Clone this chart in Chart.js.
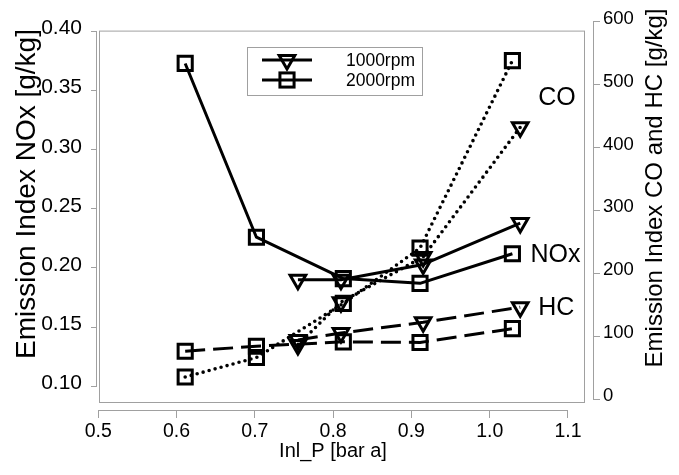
<!DOCTYPE html>
<html><head><meta charset="utf-8">
<script src="https://cdn.jsdelivr.net/npm/chart.js@4.4.0/dist/chart.umd.min.js"></script>
<style>html,body{margin:0;padding:0;background:#fff;}</style>
</head><body>
<canvas id="c" width="679" height="475"></canvas>
<script>
// ---- data ----
const xTicks = [0.5, 0.6, 0.7, 0.8, 0.9, 1.0, 1.1];
const noxTicks = [0.10, 0.15, 0.20, 0.25, 0.30, 0.35, 0.40];
const coHcTicks = [0, 100, 200, 300, 400, 500, 600];
const speeds = ['1000rpm', '2000rpm'];
const speciesLabels = ['CO', 'NOx', 'HC'];
const inlP1000 = [0.755, 0.81, 0.915, 1.039];
const inlP2000 = [0.611, 0.702, 0.813, 0.911, 1.029];
const nox1000 = [0.190, 0.190, 0.203, 0.238];
const nox2000 = [0.373, 0.226, 0.191, 0.187, 0.212];
const co1000 = [86, 154, 226, 432];
const co2000 = [35, 66, 152, 240, 538];
const hc1000 = [94, 105, 122, 146];
const hc2000 = [76, 84, 91, 90, 112];

const FONT = 'Liberation Sans, Arial, sans-serif';
const GRAY = '#a0a0a0';
const pts = (xs, ys) => xs.map((x, i) => ({x: x, y: ys[i]}));

const STY = {
  solid: {borderDash: []},
  dashed: {borderDash: [20, 8]},
  dotted: {borderDash: [0, 6.2], borderCapStyle: 'round'}
};
function ds(label, xs, ys, axis, speedIdx, line) {
  const tri = speedIdx === 0;
  return Object.assign({
    label: label,
    data: pts(xs, ys),
    yAxisID: axis,
    showLine: true,
    borderColor: '#000',
    borderWidth: line === 'dotted' ? 3.6 : 3,
    borderJoinStyle: 'round',
    pointStyle: tri ? 'triangle' : 'rect',
    pointRotation: tri ? 180 : 0,
    pointRadius: tri ? 9 : 10,
    pointBorderWidth: 3,
    pointBorderColor: '#000',
    pointBackgroundColor: 'rgba(0,0,0,0)',
    pointHoverRadius: tri ? 9 : 10,
    clip: false
  }, STY[line]);
}

const datasets = [
  ds('NOx ' + speeds[0], inlP1000, nox1000, 'yL', 0, 'solid'),
  ds('NOx ' + speeds[1], inlP2000, nox2000, 'yL', 1, 'solid'),
  ds('CO ' + speeds[0], inlP1000, co1000, 'yR', 0, 'dotted'),
  ds('CO ' + speeds[1], inlP2000, co2000, 'yR', 1, 'dotted'),
  ds('HC ' + speeds[0], inlP1000, hc1000, 'yR', 0, 'dashed'),
  ds('HC ' + speeds[1], inlP2000, hc2000, 'yR', 1, 'dashed')
];

function drawTri(ctx, x, y, r) {
  ctx.beginPath();
  ctx.moveTo(x, y + r);
  ctx.lineTo(x - 0.866 * r, y - 0.5 * r);
  ctx.lineTo(x + 0.866 * r, y - 0.5 * r);
  ctx.closePath();
  ctx.stroke();
}
function drawRect(ctx, x, y, r) {
  const s = Math.SQRT1_2 * r;
  ctx.strokeRect(x - s, y - s, 2 * s, 2 * s);
}

const decor = {
  id: 'decor',
  beforeDatasetsDraw(chart) {
    const {ctx, chartArea: a, scales} = chart;
    ctx.save();
    ctx.strokeStyle = GRAY;
    ctx.lineWidth = 1;
    // plot frame
    ctx.strokeRect(a.left + 2.5, a.top + 9.5, (a.right - 9) - (a.left + 2), (a.bottom - 8) - (a.top + 9));
    // axis lines spanning tick range
    const yL = scales.yL, yR = scales.yR, x = scales.x;
    ctx.beginPath();
    ctx.moveTo(a.left - 0.5, yL.getPixelForValue(noxTicks[0]));
    ctx.lineTo(a.left - 0.5, yL.getPixelForValue(noxTicks[noxTicks.length - 1]));
    ctx.moveTo(a.right + 0.5, yR.getPixelForValue(coHcTicks[0]));
    ctx.lineTo(a.right + 0.5, yR.getPixelForValue(coHcTicks[coHcTicks.length - 1]));
    ctx.moveTo(x.getPixelForValue(xTicks[0]), a.bottom + 0.5);
    ctx.lineTo(x.getPixelForValue(xTicks[xTicks.length - 1]), a.bottom + 0.5);
    ctx.stroke();
    ctx.restore();
  },
  afterDatasetsDraw(chart) {
    const {ctx, scales} = chart;
    ctx.save();
    // legend
    ctx.strokeStyle = GRAY;
    ctx.lineWidth = 1;
    ctx.strokeRect(247.5, 47.5, 175, 48);
    ctx.strokeStyle = '#000';
    ctx.lineWidth = 3;
    [60, 80].forEach((ly, i) => {
      ctx.beginPath();
      ctx.moveTo(262, ly); ctx.lineTo(312, ly);
      ctx.stroke();
      if (i === 0) drawTri(ctx, 287, ly, 9); else drawRect(ctx, 287, ly, 10);
    });
    ctx.fillStyle = '#000';
    ctx.font = '17.5px ' + FONT;
    ctx.textAlign = 'right';
    ctx.textBaseline = 'middle';
    ctx.fillText(speeds[0], 415, 61);
    ctx.fillText(speeds[1], 415, 81);
    // species labels
    ctx.font = '25px ' + FONT;
    ctx.textAlign = 'left';
    ctx.fillText(speciesLabels[0], scales.x.getPixelForValue(1.062), scales.yR.getPixelForValue(478));
    ctx.fillText(speciesLabels[1], scales.x.getPixelForValue(1.052), scales.yL.getPixelForValue(0.2109));
    ctx.fillText(speciesLabels[2], scales.x.getPixelForValue(1.062), scales.yR.getPixelForValue(145));
    // axis titles
    ctx.textAlign = 'center';
    ctx.textBaseline = 'alphabetic';
    ctx.font = '20px ' + FONT;
    ctx.fillText('Inl_P [bar a]', 333, 457);
    ctx.save();
    ctx.translate(35, 194);
    ctx.rotate(-Math.PI / 2);
    ctx.font = '28px ' + FONT;
    ctx.fillText('Emission Index NOx [g/kg]', 0, 0);
    ctx.restore();
    ctx.save();
    ctx.translate(662, 188);
    ctx.rotate(-Math.PI / 2);
    ctx.font = '24px ' + FONT;
    ctx.fillText('Emission Index CO and HC [g/kg]', 0, 0);
    ctx.restore();
    ctx.restore();
  }
};

new Chart(document.getElementById('c'), {
  type: 'scatter',
  data: {datasets: datasets},
  options: {
    responsive: false,
    animation: false,
    devicePixelRatio: 1,
    layout: {padding: {top: 19, left: 0, right: 0, bottom: 0}},
    plugins: {legend: {display: false}, tooltip: {enabled: false}},
    scales: {
      x: {
        type: 'linear', position: 'bottom',
        min: 0.49834, max: 1.13197,
        afterBuildTicks: s => { s.ticks = xTicks.map(v => ({value: v})); },
        afterFit: s => { s.height = 65; },
        ticks: {callback: v => v.toFixed(1), autoSkip: false, maxRotation: 0,
                font: {family: FONT, size: 19.5}, color: '#000', padding: 2},
        grid: {drawOnChartArea: false, tickLength: 8, color: GRAY},
        border: {display: false}
      },
      yL: {
        type: 'linear', position: 'left',
        min: 0.07983, max: 0.40840,
        afterBuildTicks: s => { s.ticks = noxTicks.map(v => ({value: v})); },
        afterFit: s => { s.width = 97; },
        ticks: {callback: v => v.toFixed(2), autoSkip: false,
                font: {family: FONT, size: 21}, color: '#000', padding: 9, labelOffset: -3},
        grid: {drawOnChartArea: false, tickLength: 6, color: GRAY},
        border: {display: false}
      },
      yR: {
        type: 'linear', position: 'right',
        min: -17.37, max: 600,
        afterBuildTicks: s => { s.ticks = coHcTicks.map(v => ({value: v})); },
        afterFit: s => { s.width = 86; },
        ticks: {callback: v => String(v), autoSkip: false,
                font: {family: FONT, size: 18.5}, color: '#000', padding: 3, labelOffset: -3},
        grid: {drawOnChartArea: false, tickLength: 7, color: GRAY},
        border: {display: false}
      }
    }
  },
  plugins: [decor]
});
</script>
</body></html>
